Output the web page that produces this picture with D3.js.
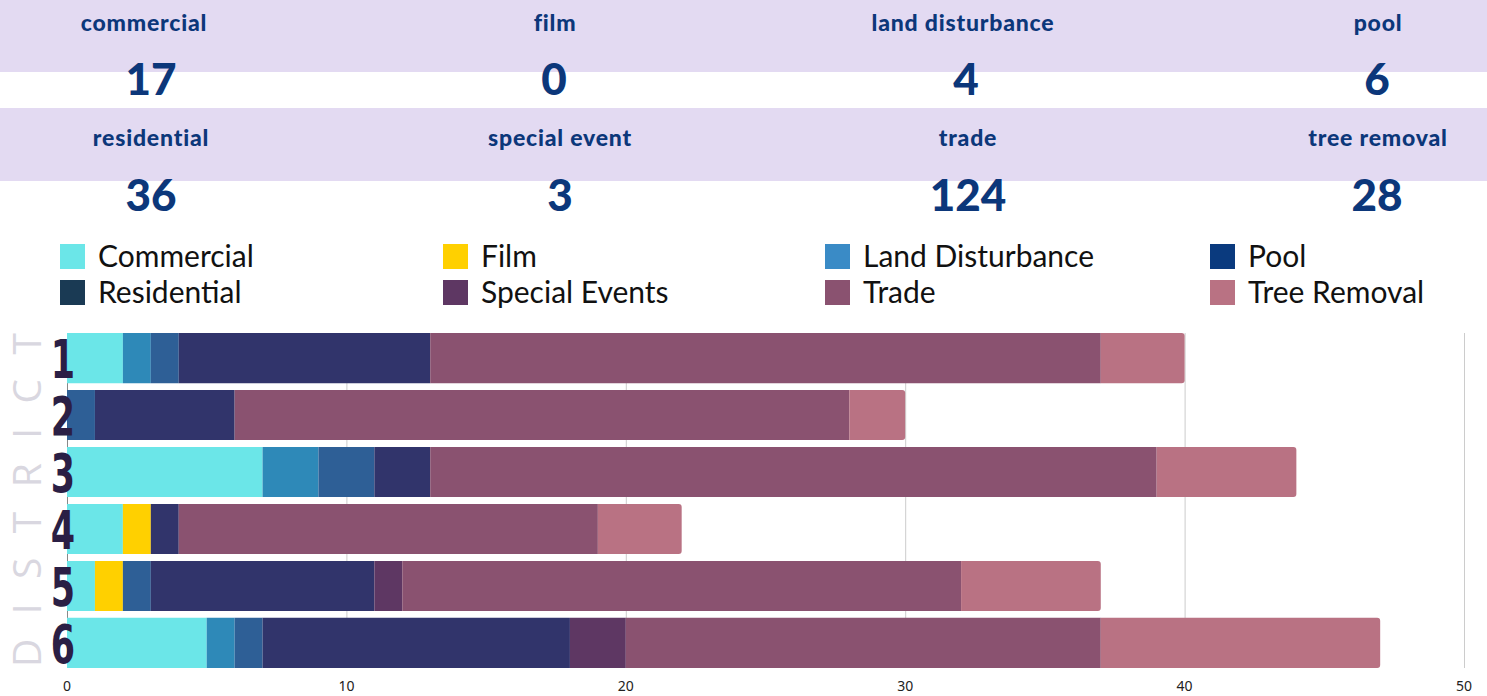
<!DOCTYPE html>
<html lang="en">
<head>
<meta charset="UTF-8">
<script src="https://d3js.org/d3.v7.min.js"></script>
<style>
  body { margin: 0; background: #fff; font-family: Lato, sans-serif; }
  svg { display: block; }
</style>
</head>
<body>
<svg id="chart" width="1487" height="696"></svg>
<script>
// summary tiles
const tileLabels = ["commercial", "film", "land disturbance", "pool",
                    "residential", "special event", "trade", "tree removal"];
const tileValues = [17, 0, 4, 6, 36, 3, 124, 28];

// legend
const legendNames = ["Commercial", "Film", "Land Disturbance", "Pool",
                     "Residential", "Special Events", "Trade", "Tree Removal"];
const legendColors = ["#6be6e8", "#ffd000", "#3a8bc6", "#0a3a7e",
                      "#1a3a54", "#5e3763", "#8a5270", "#b97283"];

// stacked bars
const districts = ["1", "2", "3", "4", "5", "6"];
const seriesKeys = ["commercial", "film", "land", "pool", "residential", "special", "trade", "tree"];
const barColors = ["#6be6e8", "#ffd000", "#2e89b8", "#2e5f96",
                   "#31346b", "#5e3763", "#8a5270", "#b97283"];
const commercial  = [2, 0, 7, 2, 1, 5];
const film        = [0, 0, 0, 1, 1, 0];
const land        = [1, 0, 2, 0, 0, 1];
const pool        = [1, 1, 2, 0, 1, 1];
const residential = [9, 5, 2, 1, 8, 11];
const special     = [0, 0, 0, 0, 1, 2];
const trade       = [24, 22, 26, 15, 20, 17];
const tree        = [3, 2, 5, 3, 5, 10];
const xTicks = [0, 10, 20, 30, 40, 50];

const svg = d3.select("#chart");

// ---- tiles ----
svg.append("rect").attr("x", 0).attr("y", 0).attr("width", 1487).attr("height", 72).attr("fill", "#e3daf2");
svg.append("rect").attr("x", 0).attr("y", 108).attr("width", 1487).attr("height", 73).attr("fill", "#e3daf2");

const tileX = [144, 555, 963, 1378, 151, 560, 968, 1378];
const numX = [151, 554, 966, 1377, 151, 560, 968, 1377];
const tiles = tileLabels.map((l, i) => ({ label: l, value: tileValues[i], row: Math.floor(i / 4), i }));

svg.selectAll(".tile-label").data(tiles).enter().append("text")
  .attr("x", d => tileX[d.i]).attr("y", d => d.row === 0 ? 31 : 146)
  .attr("text-anchor", "middle")
  .style("font-family", "Lato, sans-serif").style("font-weight", 900)
  .style("font-size", "23px").style("letter-spacing", "0.8px").style("fill", "#0c377a")
  .text(d => d.label);

svg.selectAll(".tile-value").data(tiles).enter().append("text")
  .attr("x", d => numX[d.i]).attr("y", d => d.row === 0 ? 95 : 211)
  .attr("text-anchor", "middle")
  .style("font-family", "Lato, sans-serif").style("font-weight", 900)
  .style("font-size", "44px").style("fill", "#0c377a")
  .text(d => d.value);

// ---- legend ----
const legX = [60, 443, 825, 1210];
const leg = svg.selectAll(".leg").data(legendNames).enter().append("g")
  .attr("transform", (d, i) => `translate(${legX[i % 4]},${i < 4 ? 244 : 280})`);
leg.append("rect").attr("width", 25).attr("height", 25).attr("fill", (d, i) => legendColors[i]);
leg.append("text").attr("x", 38).attr("y", 23)
  .style("font-family", "Lato, sans-serif").style("font-size", "30px").style("fill", "#111")
  .text(d => d);

// ---- bars ----
const rows = districts.map((d, i) => ({
  district: d,
  commercial: commercial[i], film: film[i], land: land[i], pool: pool[i],
  residential: residential[i], special: special[i], trade: trade[i], tree: tree[i]
}));
const stacked = d3.stack().keys(seriesKeys)(rows);

const x = d3.scaleLinear().domain([0, 50]).range([67, 1464]);
const y = d3.scaleBand().domain(districts).range([333, 668]).paddingInner(0.12).paddingOuter(0);

// grid
svg.append("g").selectAll("line").data(xTicks.slice(1)).enter().append("line")
  .attr("x1", d => x(d) + 0.5).attr("x2", d => x(d) + 0.5)
  .attr("y1", 333).attr("y2", 668)
  .attr("stroke", "#cccccc").attr("stroke-width", 1);
svg.append("line").attr("x1", x(0) + 0.5).attr("x2", x(0) + 0.5).attr("y1", 333).attr("y2", 668)
  .attr("stroke", "#888").attr("stroke-width", 1);

const totals = rows.map(r => d3.sum(seriesKeys, k => r[k]));

stacked.forEach((layer, li) => {
  svg.append("g").selectAll("path").data(layer.filter(s => s[1] > s[0])).enter().append("path")
    .attr("fill", barColors[li])
    .attr("d", s => {
      const x0 = x(s[0]), x1 = x(s[1]);
      const y0 = y(s.data.district), h = y.bandwidth();
      const last = s[1] === totals[districts.indexOf(s.data.district)];
      const r = last ? 3 : 0;
      return `M${x0},${y0}H${x1 - r}Q${x1},${y0} ${x1},${y0 + r}V${y0 + h - r}Q${x1},${y0 + h} ${x1 - r},${y0 + h}H${x0}Z`;
    });
});

// x axis labels
svg.append("g").selectAll("text").data(xTicks).enter().append("text")
  .attr("x", d => x(d)).attr("y", 691).attr("text-anchor", "middle")
  .style("font-family", "'Noto Sans', sans-serif").style("font-size", "14px").style("fill", "#222")
  .text(d => d);

// district numbers
svg.append("g").selectAll("text").data(districts).enter().append("text")
  .attr("transform", d => `translate(${63},${y(d) + y.bandwidth() / 2 + 20}) scale(0.72,1)`)
  .attr("text-anchor", "middle")
  .style("font-family", "'DejaVu Sans Condensed', 'DejaVu Sans', sans-serif")
  .style("font-weight", 900).style("font-size", "54px").style("fill", "#2a1f45")
  .text(d => d);

// vertical DISTRICT label
svg.append("text")
  .attr("transform", "translate(41,667) rotate(-90)")
  .attr("textLength", 334).attr("lengthAdjust", "spacing")
  .style("font-family", "'Open Sans', sans-serif").style("font-weight", 400)
  .style("font-size", "39px").style("fill", "#d9d7e0")
  .text("DISTRICT");
</script>
</body>
</html>
